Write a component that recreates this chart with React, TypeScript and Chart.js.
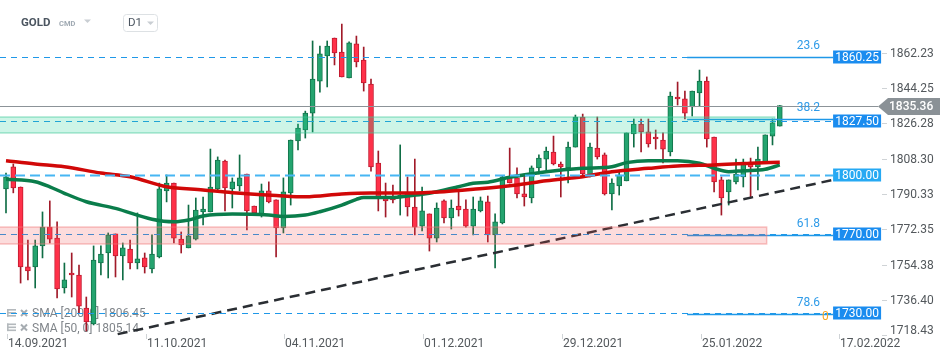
import React, { useEffect, useRef } from 'react';
import { Chart, registerables } from 'chart.js';
Chart.register(...registerables);

// ---- data (bar index 0 = 14.09.2021) ----
const opens = [1792.9,1804.1,1793.9,1753.2,1753.2,1763.9,1773.5,1767.9,1742.5,1750.1,
1749.1,1732.3,1724.2,1755.2,1760.3,1770.0,1758.8,1762.3,1755.2,1757.8,
1752.2,1758.3,1791.9,1795.9,1767.4,1762.9,1767.4,1781.2,1781.2,1792.9,
1807.1,1792.9,1794.4,1800.5,1784.2,1779.6,1791.9,1787.3,1773.0,1790.9,
1817.3,1822.9,1831.5,1847.8,1860.6,1869.7,1862.6,1849.4,1866.7,1858.5,
1846.3,1806.1,1788.8,1788.8,1788.8,1790.9,1783.7,1774.0,1780.2,1767.9,
1786.8,1778.1,1784.2,1782.7,1774.0,1781.7,1786.3,1769.5,1775.6,1799.0,
1798.5,1790.4,1788.3,1803.6,1808.1,1811.7,1805.6,1803.6,1814.2,1829.5,
1799.5,1813.7,1810.2,1790.4,1794.4,1797.0,1820.9,1825.9,1821.9,1819.3,
1817.8,1811.7,1839.7,1838.7,1834.6,1841.7,1847.8,1819.3,1797.5,1791.4,
1796.5,1799.0,1805.6,1804.1,1806.6,1819.8,1824.9];
const highs = [1801.0,1805.6,1793.9,1766.9,1766.9,1781.2,1786.8,1776.1,1755.2,1760.3,
1754.2,1737.9,1763.9,1763.9,1770.5,1770.0,1765.4,1766.9,1780.7,1760.3,
1769.5,1795.9,1800.0,1795.9,1771.0,1784.7,1788.3,1788.8,1813.2,1809.2,
1807.6,1798.5,1810.2,1800.5,1784.2,1795.4,1796.5,1787.3,1798.5,1817.8,
1825.9,1832.5,1868.2,1865.6,1868.2,1869.7,1876.8,1867.7,1870.7,1865.1,
1848.8,1812.2,1795.9,1794.9,1815.3,1799.0,1808.1,1793.9,1780.2,1785.8,
1787.3,1787.3,1791.4,1787.3,1788.8,1788.8,1789.3,1780.2,1799.5,1813.7,
1803.6,1800.0,1804.6,1810.2,1814.2,1819.8,1806.6,1816.8,1830.5,1831.0,
1816.3,1829.5,1811.2,1798.0,1801.5,1821.4,1828.5,1828.5,1828.5,1822.9,
1821.4,1842.2,1847.3,1842.7,1842.7,1853.4,1849.9,1819.3,1799.0,1797.5,
1808.1,1808.1,1808.6,1814.2,1820.4,1828.5,1835.36];
const lows = [1780.7,1790.9,1745.0,1746.6,1742.5,1757.8,1765.4,1737.4,1739.9,1737.9,
1729.8,1720.6,1723.7,1749.1,1747.6,1748.1,1746.6,1752.2,1752.2,1750.1,
1750.1,1757.8,1786.3,1765.4,1760.3,1762.9,1766.9,1774.6,1781.2,1792.4,
1781.7,1783.2,1791.9,1772.0,1780.7,1778.6,1785.8,1758.3,1770.5,1784.7,
1812.7,1818.8,1821.9,1842.2,1844.8,1856.0,1849.9,1849.4,1855.0,1842.7,
1802.0,1781.7,1778.6,1785.8,1779.6,1779.1,1769.5,1771.5,1761.3,1765.9,
1775.6,1772.5,1779.1,1773.5,1769.5,1781.2,1765.9,1752.7,1775.1,1795.9,
1788.3,1784.2,1785.8,1800.5,1802.5,1805.1,1788.8,1795.9,1814.2,1800.0,
1799.0,1808.1,1789.8,1782.2,1789.8,1797.0,1814.2,1811.7,1814.2,1813.2,
1806.1,1809.7,1835.6,1828.5,1830.0,1835.1,1814.2,1791.4,1779.6,1784.7,
1795.4,1793.9,1788.3,1792.4,1806.6,1815.3,1824.9];
const closes = [1799.0,1793.4,1753.2,1751.2,1763.9,1773.5,1767.4,1742.0,1746.6,1749.1,
1733.3,1725.2,1756.7,1759.8,1769.5,1758.8,1762.9,1755.2,1757.3,1753.2,
1759.8,1792.9,1795.9,1767.9,1764.4,1769.0,1782.2,1782.7,1793.9,1807.6,
1793.4,1796.5,1798.5,1781.7,1780.7,1791.9,1786.3,1773.0,1791.4,1817.8,
1823.9,1831.5,1848.8,1861.6,1865.6,1862.1,1849.9,1867.2,1857.5,1846.8,
1804.1,1788.8,1786.8,1787.3,1789.8,1783.7,1773.5,1781.7,1767.9,1783.2,
1778.1,1783.2,1782.2,1774.0,1782.7,1786.8,1769.5,1776.1,1799.0,1795.9,
1790.4,1788.8,1803.6,1808.6,1812.2,1805.6,1804.1,1814.2,1829.5,1800.5,
1814.2,1809.2,1790.4,1795.9,1800.0,1821.4,1825.9,1821.9,1815.8,1818.3,
1813.2,1840.2,1838.7,1831.5,1842.7,1847.8,1818.3,1796.5,1788.3,1797.5,
1800.5,1806.6,1804.1,1808.1,1820.4,1826.5,1835.36];

const sma200Idx = [0,4,8,13,17,22,27,31,37,41,46,50,55,60,64,70,74,79,83,88,92,97,102,106];
const sma200Val = [1807.3,1805.6,1804.2,1801.0,1799.1,1794.0,1792.4,1791.0,1789.6,1788.9,1790.3,1790.8,1790.8,1791.5,1792.7,1794.9,1797.1,1799.1,1801.7,1803.4,1804.6,1805.1,1806.0,1806.45];
const sma50Idx = [0,4,6,8,11,15,20,23,25,27,31,36,38,41,43,46,48,49,53,55,57,59,62,64,66,69,74,79,83,85,88,92,95,97,99,101,104,106];
const sma50Val = [1797.8,1796.6,1794.0,1790.7,1786.4,1783.0,1777.5,1776.2,1777.1,1779.1,1780.1,1779.6,1778.9,1779.6,1781.3,1784.7,1787.6,1788.6,1788.6,1789.3,1790.2,1791.5,1794.0,1795.8,1796.3,1798.8,1801.7,1803.4,1804.2,1806.3,1807.3,1807.3,1806.0,1803.4,1801.7,1802.2,1802.9,1805.14];

const trendIdx = [15.3, 113.3];
const trendVal = [1719.0, 1797.5];

const yTicks = [1862.23, 1844.25, 1826.28, 1808.30, 1790.33, 1772.35, 1754.38, 1736.40, 1718.43];
const xTickIdx = [0, 19, 38, 57, 76, 95, 114];
const xTickLabels = ['14.09.2021', '11.10.2021', '04.11.2021', '01.12.2021', '29.12.2021', '25.01.2022', '17.02.2022'];

const levelValues = [1860.25, 1827.50, 1800.00, 1770.00, 1730.00];
const fibValues = [1860.0, 1828.6, 1769.5, 1729.5];
const fibLabels = ['23.6', '38.2', '61.8', '78.6'];
const fibStartIdx = 93.3;
const levelEndIdx = 113.3;
const zoneGreen = [1821.4, 1829.5];
const zoneGreenEnd = 105.3;
const zoneRed = [1764.9, 1773.5];
const zoneRedEnd = 104.2;
const lastPrice = 1835.36;

const xMin = -0.822, xMax = 120;
const yMin = 1718.06, yMax = 1889.05;

const overlay = {
  id: 'overlay',
  beforeDatasetsDraw(chart: any) {
    const ctx = chart.ctx;
    ctx.save();
    const rows = [
      `SMA [200, 0] ${sma200Val[sma200Val.length - 1].toFixed(2)}`,
      `SMA [50, 0] ${sma50Val[sma50Val.length - 1].toFixed(2)}`,
    ];
    rows.forEach((txt, k) => {
      const y = 314 + k * 14.5;
      ctx.fillStyle = '#b4b9bd';
      ctx.fillRect(7, y - 5, 9, 1.6);
      ctx.fillRect(7, y - 2, 9, 1.6);
      ctx.fillRect(7, y + 1, 9, 1.6);
      ctx.fillRect(7, y - 5, 1.6, 7.6);
      ctx.strokeStyle = '#a6acb1';
      ctx.lineWidth = 2;
      ctx.beginPath();
      ctx.moveTo(21, y - 4); ctx.lineTo(27, y + 2);
      ctx.moveTo(27, y - 4); ctx.lineTo(21, y + 2);
      ctx.stroke();
      ctx.fillStyle = '#80858a';
      ctx.font = '12px Roboto';
      ctx.textAlign = 'left';
      ctx.textBaseline = 'middle';
      ctx.fillText(txt, 32, y);
    });
    ctx.restore();
  },
  afterDatasetsDraw(chart: any) {
    const { ctx, chartArea: ca } = chart;
    const xs = chart.scales.x, ys = chart.scales.y;
    const xEnd = xs.getPixelForValue(levelEndIdx);
    const seg = (x1: number, y1: number, x2: number, y2: number) => {
      ctx.beginPath(); ctx.moveTo(x1, y1); ctx.lineTo(x2, y2); ctx.stroke();
    };
    ctx.save();
    // last price line
    const pp = Math.round(ys.getPixelForValue(lastPrice)) + 0.5;
    ctx.strokeStyle = '#8c9398'; ctx.lineWidth = 1; ctx.setLineDash([]);
    seg(ca.left, pp, ca.right - 4, pp);
    // dashed levels
    levelValues.forEach((v) => {
      const py = Math.round(ys.getPixelForValue(v)) + 0.5;
      if (v === 1800) { ctx.strokeStyle = '#46b6f3'; ctx.lineWidth = 2; ctx.setLineDash([10, 5]); }
      else { ctx.strokeStyle = '#1f98e8'; ctx.lineWidth = 1.2; ctx.setLineDash([6, 5]); }
      seg(ca.left, py, xEnd, py);
    });
    // fib lines
    ctx.setLineDash([]); ctx.strokeStyle = '#1f98e8'; ctx.lineWidth = 1.3;
    const fx = xs.getPixelForValue(fibStartIdx);
    fibValues.forEach((v) => {
      const py = Math.round(ys.getPixelForValue(v)) + 0.5;
      seg(fx, py, xEnd, py);
    });
    // zones
    const zone = (z: number[], end: number, fill: string, stroke: string) => {
      const y1 = ys.getPixelForValue(z[1]), y2 = ys.getPixelForValue(z[0]);
      const x2 = xs.getPixelForValue(end);
      ctx.fillStyle = fill;
      ctx.fillRect(ca.left, y1, x2 - ca.left, y2 - y1);
      ctx.strokeStyle = stroke; ctx.lineWidth = 1.5;
      ctx.strokeRect(ca.left - 2, y1, x2 - ca.left + 2, y2 - y1);
    };
    zone(zoneGreen, zoneGreenEnd, 'rgba(40,210,150,0.23)', 'rgba(60,200,150,0.45)');
    zone(zoneRed, zoneRedEnd, 'rgba(240,80,80,0.2)', 'rgba(240,120,120,0.45)');
    // fib labels
    ctx.font = '12px Roboto'; ctx.textBaseline = 'middle'; ctx.textAlign = 'right';
    ctx.fillStyle = '#2f9be8';
    fibValues.forEach((v, k) => {
      const py = ys.getPixelForValue(v);
      ctx.fillText(fibLabels[k], xEnd - 13, py - 11);
    });
    // orange 0 (fib base)
    ctx.fillStyle = '#f5a623'; ctx.textAlign = 'left';
    ctx.fillText('0', xEnd - 11, ys.getPixelForValue(fibValues[3]) + 3.5);
    // boxes
    levelValues.forEach((v) => {
      const py = Math.round(ys.getPixelForValue(v));
      ctx.fillStyle = v === 1800 ? '#26a9f3' : '#1a8cef';
      ctx.fillRect(xEnd, py - 6.5, 48, 13);
      ctx.fillStyle = '#ffffff';
      ctx.textAlign = 'center';
      ctx.fillText(v.toFixed(2), xEnd + 24, py + 0.5);
    });
    // price tag
    ctx.fillStyle = '#8a9196';
    ctx.beginPath();
    ctx.moveTo(ca.right - 4, pp);
    ctx.lineTo(ca.right + 6, pp - 8.5);
    ctx.lineTo(ca.right + 58, pp - 8.5);
    ctx.lineTo(ca.right + 58, pp + 8.5);
    ctx.lineTo(ca.right + 6, pp + 8.5);
    ctx.closePath();
    ctx.fill();
    ctx.fillStyle = '#ffffff';
    ctx.textAlign = 'left';
    ctx.font = '500 12px Roboto';
    ctx.fillText(lastPrice.toFixed(2), ca.right + 7, pp + 0.5);
    ctx.restore();
  },
  afterDraw(chart: any) {
    const { ctx, chartArea: ca } = chart;
    const xs = chart.scales.x, ys = chart.scales.y;
    ctx.save();
    ctx.font = '12px Roboto';
    ctx.textBaseline = 'middle';
    // y axis
    yTicks.forEach((t) => {
      const py = Math.round(ys.getPixelForValue(t)) + 0.5;
      ctx.strokeStyle = '#cfd3d6'; ctx.lineWidth = 1;
      ctx.beginPath(); ctx.moveTo(ca.right, py); ctx.lineTo(ca.right + 5, py); ctx.stroke();
      ctx.fillStyle = '#53585c'; ctx.textAlign = 'left';
      ctx.fillText(t.toFixed(2), ca.right + 8, Math.min(py, ca.bottom - 5));
    });
    // x axis
    xTickIdx.forEach((idx, k) => {
      const px = Math.round(xs.getPixelForValue(idx)) + 1.5;
      ctx.strokeStyle = '#cfd3d6'; ctx.lineWidth = 1;
      ctx.beginPath(); ctx.moveTo(px, ca.bottom - 2); ctx.lineTo(px, ca.bottom + 3); ctx.stroke();
      ctx.fillStyle = '#53585c'; ctx.textAlign = 'left';
      ctx.fillText(xTickLabels[k], px + 0.5, ca.bottom + 8);
    });
    // header
    ctx.fillStyle = '#4b5560';
    ctx.font = 'bold 11.5px Roboto';
    ctx.fillText('GOLD', 21, 23.5);
    ctx.fillStyle = '#a0aab3';
    ctx.font = 'bold 7.5px Roboto';
    ctx.fillText('CMD', 59, 24);
    ctx.fillStyle = '#c9ced3';
    ctx.beginPath(); ctx.moveTo(84, 19.5); ctx.lineTo(91, 19.5); ctx.lineTo(87.5, 23); ctx.closePath(); ctx.fill();
    // D1 box
    ctx.strokeStyle = '#dde1e4'; ctx.lineWidth = 1;
    ctx.beginPath();
    const bx = 123.5, by = 14.5, bw = 34, bh = 17, r = 3;
    ctx.moveTo(bx + r, by); ctx.lineTo(bx + bw - r, by); ctx.quadraticCurveTo(bx + bw, by, bx + bw, by + r);
    ctx.lineTo(bx + bw, by + bh - r); ctx.quadraticCurveTo(bx + bw, by + bh, bx + bw - r, by + bh);
    ctx.lineTo(bx + r, by + bh); ctx.quadraticCurveTo(bx, by + bh, bx, by + bh - r);
    ctx.lineTo(bx, by + r); ctx.quadraticCurveTo(bx, by, bx + r, by);
    ctx.stroke();
    ctx.fillStyle = '#4b5560';
    ctx.font = '11.5px Roboto';
    ctx.fillText('D1', 128, 23.5);
    ctx.fillStyle = '#c9ced3';
    ctx.beginPath(); ctx.moveTo(147, 21.5); ctx.lineTo(154, 21.5); ctx.lineTo(150.5, 25); ctx.closePath(); ctx.fill();
    ctx.restore();
  },
};

export default function App() {
  const ref = useRef<HTMLCanvasElement | null>(null);
  useEffect(() => {
    if (!ref.current) return;
    const idx = opens.map((_, i) => i);
    const up = idx.map((i) => closes[i] >= opens[i]);
    const wickData = idx.map((i) => ({ x: i, y: [lows[i], highs[i]] }));
    const bodyData = idx.map((i) => ({ x: i, y: [opens[i], closes[i]] }));
    const sma200 = sma200Idx.map((x, k) => ({ x, y: sma200Val[k] }));
    const sma50 = sma50Idx.map((x, k) => ({ x, y: sma50Val[k] }));
    const trend = trendIdx.map((x, k) => ({ x, y: trendVal[k] }));
    const chart = new Chart(ref.current, {
      type: 'bar',
      data: {
        datasets: [
          { type: 'line', label: 'trend', data: trend, borderColor: '#2a2e33', borderWidth: 2.5, borderDash: [10, 6], pointRadius: 0, order: 1 } as any,
          { type: 'line', label: 'SMA200', data: sma200, borderColor: '#d10808', borderWidth: 3.5, pointRadius: 0, cubicInterpolationMode: 'monotone', order: 0 } as any,
          { type: 'line', label: 'SMA50', data: sma50, borderColor: '#0a7d4b', borderWidth: 3.5, pointRadius: 0, cubicInterpolationMode: 'monotone', order: 0 } as any,
          { type: 'bar', label: 'wicks', data: wickData, backgroundColor: up.map((u) => (u ? '#0f6d45' : '#a11a29')), barThickness: 1, grouped: false, order: 3 } as any,
          { type: 'bar', label: 'bodies', data: bodyData, backgroundColor: up.map((u) => (u ? '#24a46f' : '#ff3149')), borderColor: up.map((u) => (u ? '#13744b' : '#c21a2f')), borderWidth: 1, borderSkipped: false, barThickness: 5, grouped: false, order: 2 } as any,
        ],
      },
      options: {
        responsive: false,
        maintainAspectRatio: false,
        animation: false,
        events: [],
        layout: { padding: { left: 0, right: 68, top: 0, bottom: 25 } },
        plugins: { legend: { display: false }, tooltip: { enabled: false } },
        scales: {
          x: { type: 'linear', min: xMin, max: xMax, display: false, offset: false },
          y: { type: 'linear', min: yMin, max: yMax, display: false },
        },
      } as any,
      plugins: [overlay],
    });
    return () => chart.destroy();
  }, []);
  return (
    <div style={{ position: 'fixed', left: 0, top: 0, width: 950, height: 361, background: '#fff' }}>
      <canvas ref={ref} width={950} height={361} style={{ display: 'block', width: 950, height: 361 }} />
    </div>
  );
}
